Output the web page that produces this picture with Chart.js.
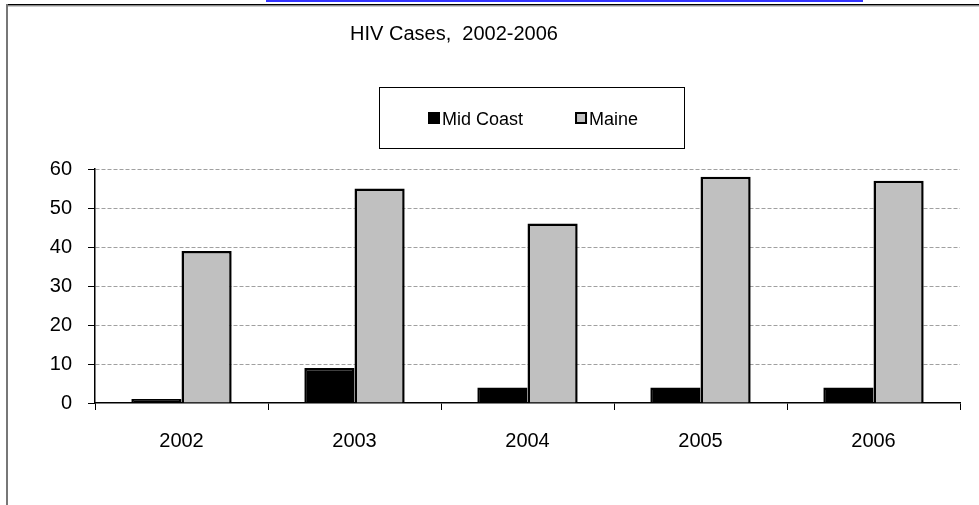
<!DOCTYPE html>
<html>
<head>
<meta charset="utf-8">
<script src="https://cdn.jsdelivr.net/npm/chart.js@4"></script>
<style>
  html, body { margin: 0; padding: 0; background: #fff; }
  canvas { display: block; }
</style>
</head>
<body>
<canvas id="c" width="979" height="505"></canvas>
<script>
const categories = ['2002', '2003', '2004', '2005', '2006'];
const midCoast = [1, 9, 4, 4, 4];
const maine = [39, 55, 46, 58, 57];
const seriesNames = ['Mid Coast', 'Maine'];
const yTicks = [0, 10, 20, 30, 40, 50, 60];
const titleText = 'HIV Cases,  2002-2006';

const FONT = '"Liberation Sans", Arial, sans-serif';

const decorPlugin = {
  id: 'decor',
  beforeDraw(chart) {
    const ctx = chart.ctx;
    ctx.save();
    ctx.fillStyle = '#fff';
    ctx.fillRect(0, 0, chart.width, chart.height);
    // blue link underline remnant at top
    ctx.fillStyle = '#3333ff';
    ctx.fillRect(266, 0, 597, 2);
    // frame
    ctx.fillStyle = '#000';
    ctx.fillRect(7, 4, chart.width - 7, 1.5);
    ctx.fillStyle = '#9a9a9a';
    ctx.fillRect(7, 5.5, chart.width - 7, 1);
    ctx.fillStyle = '#777';
    ctx.fillRect(6, 4, 2, chart.height - 4);
    ctx.restore();
  },
  afterDraw(chart) {
    const ctx = chart.ctx;
    ctx.save();
    // title
    ctx.fillStyle = '#000';
    ctx.font = '20px ' + FONT;
    ctx.textAlign = 'center';
    ctx.textBaseline = 'alphabetic';
    ctx.fillText(titleText, 454, 39.5);
    // legend box
    ctx.strokeStyle = '#000';
    ctx.lineWidth = 1;
    ctx.strokeRect(379.5, 87.5, 305, 61);
    // legend items
    ctx.font = '18px ' + FONT;
    ctx.textAlign = 'left';
    let x = 428;
    chart.data.datasets.forEach(ds => {
      ctx.fillStyle = ds.backgroundColor;
      ctx.fillRect(x, 112, 12, 12);
      ctx.strokeStyle = '#000';
      ctx.lineWidth = 2;
      ctx.strokeRect(x + 1, 113, 10, 10);
      ctx.fillStyle = '#000';
      ctx.fillText(ds.label, x + 14, 125);
      x += 14 + ctx.measureText(ds.label).width + 52;
    });
    ctx.restore();
  }
};

new Chart(document.getElementById('c'), {
  type: 'bar',
  data: {
    labels: categories,
    datasets: [
      { label: seriesNames[0], data: midCoast, backgroundColor: '#000000', borderColor: '#000000', borderWidth: 2.5 },
      { label: seriesNames[1], data: maine, backgroundColor: '#c0c0c0', borderColor: '#000000', borderWidth: 2.5 }
    ]
  },
  options: {
    responsive: false,
    maintainAspectRatio: false,
    animation: false,
    datasets: { bar: { categoryPercentage: 0.58, barPercentage: 1.0 } },
    layout: { padding: { top: 169, right: 19, left: 0, bottom: 0 } },
    plugins: { legend: { display: false }, title: { display: false }, tooltip: { enabled: false } },
    scales: {
      x: {
        offset: true,
        grid: { offset: true, drawOnChartArea: false, drawTicks: true, tickLength: 7, tickColor: '#000', tickWidth: 1 },
        border: { display: true, color: '#000', width: 1.5 },
        ticks: { color: '#000', font: { family: FONT, size: 20 }, padding: 19, maxRotation: 0 },
        afterFit(scale) { scale.height = 102; }
      },
      y: {
        min: 0,
        max: 60,
        afterBuildTicks(scale) { scale.ticks = yTicks.map(v => ({ value: v })); },
        grid: {
          color: c => (c.tick && c.tick.value === 0) ? 'rgba(0,0,0,0)' : '#a0a0a0',
          lineWidth: 1,
          drawTicks: true,
          tickLength: 7,
          tickColor: '#000',
          tickWidth: 1,
          tickBorderDash: []
        },
        border: { display: true, color: '#000', width: 1.5, dash: [4, 2] },
        ticks: { color: '#000', font: { family: FONT, size: 20 }, padding: 16 },
        afterFit(scale) { scale.width = 95; }
      }
    }
  },
  plugins: [decorPlugin]
});
</script>
</body>
</html>
